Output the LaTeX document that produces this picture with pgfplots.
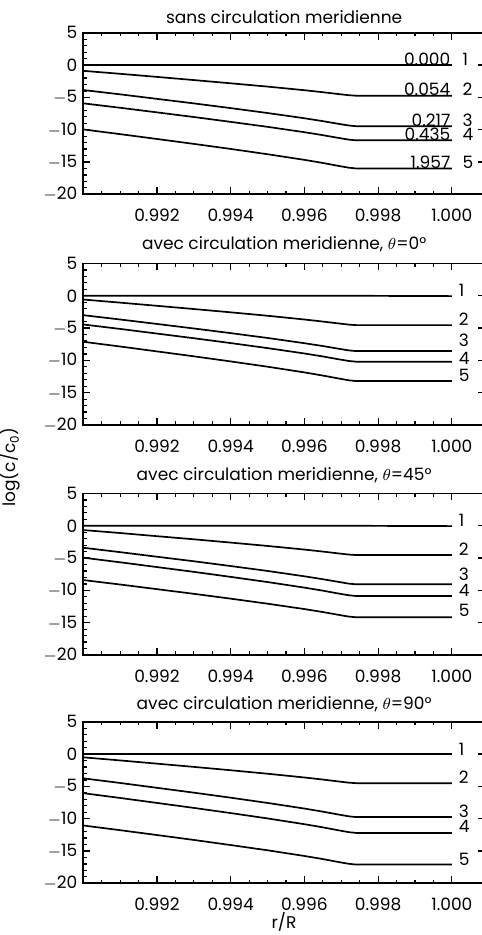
\documentclass[border=0pt]{standalone}
\usepackage{fontspec}
\setmainfont{Poppins}
\usepackage{pgfplots}
\pgfplotsset{compat=1.18}
\usepackage{pgfplotstable}

% panel 1: sans circulation meridienne
\pgfplotstableread{
x c1 c2 c3 c4 c5
0.9900 0 -0.89 -3.86 -5.92 -9.96
0.9910 0 -1.35 -4.53 -6.61 -10.69
0.9920 0 -1.83 -5.23 -7.32 -11.44
0.9930 0 -2.32 -5.93 -8.04 -12.20
0.9940 0 -2.82 -6.66 -8.79 -12.98
0.9950 0 -3.33 -7.42 -9.56 -13.80
0.9960 0 -3.89 -8.23 -10.39 -14.67
0.9965 0 -4.20 -8.68 -10.85 -15.15
0.9969 0 -4.47 -9.07 -11.25 -15.58
0.9972 0 -4.66 -9.35 -11.54 -15.88
0.9974 0 -4.74 -9.46 -11.65 -16.00
1.0000 0 -4.74 -9.46 -11.65 -16.00
}\panelA
% panel 2: theta = 0
\pgfplotstableread{
x c1 c2 c3 c4 c5
0.9900 0 -0.58 -3.00 -4.44 -7.12
0.9910 0 -1.06 -3.67 -5.13 -7.85
0.9920 0 -1.55 -4.36 -5.85 -8.61
0.9930 0 -2.05 -5.06 -6.57 -9.37
0.9940 0 -2.56 -5.78 -7.32 -10.16
0.9950 0 -3.09 -6.53 -8.10 -10.98
0.9960 0 -3.67 -7.34 -8.93 -11.86
0.9965 0 -3.99 -7.78 -9.39 -12.35
0.9969 0 -4.26 -8.17 -9.80 -12.77
0.9972 0 -4.46 -8.45 -10.09 -13.08
0.9974 0 -4.54 -8.56 -10.20 -13.20
1.0000 -0.05 -4.54 -8.56 -10.20 -13.20
}\panelB
% panel 3: theta = 45
\pgfplotstableread{
x c1 c2 c3 c4 c5
0.9900 0 -0.66 -3.40 -4.94 -8.40
0.9910 0 -1.12 -4.08 -5.65 -9.09
0.9920 0 -1.61 -4.79 -6.39 -9.81
0.9930 0 -2.09 -5.49 -7.13 -10.53
0.9940 0 -2.60 -6.23 -7.91 -11.28
0.9950 0 -3.12 -6.99 -8.71 -12.06
0.9960 0 -3.68 -7.82 -9.57 -12.89
0.9965 0 -3.99 -8.27 -10.04 -13.35
0.9969 0 -4.26 -8.66 -10.46 -13.76
0.9972 0 -4.45 -8.95 -10.75 -14.05
0.9974 0 -4.53 -9.06 -10.87 -14.16
1.0000 -0.05 -4.53 -9.06 -10.87 -14.16
}\panelC
% panel 4: theta = 90
\pgfplotstableread{
x c1 c2 c3 c4 c5
0.9900 0 -0.50 -3.75 -6.05 -11.05
0.9910 0 -0.98 -4.47 -6.79 -11.78
0.9920 0 -1.48 -5.22 -7.56 -12.53
0.9930 0 -1.98 -5.97 -8.33 -13.29
0.9940 0 -2.50 -6.75 -9.13 -14.08
0.9950 0 -3.04 -7.56 -9.96 -14.89
0.9960 0 -3.62 -8.43 -10.85 -15.77
0.9965 0 -3.94 -8.91 -11.34 -16.25
0.9969 0 -4.22 -9.33 -11.77 -16.68
0.9972 0 -4.42 -9.63 -12.08 -16.98
0.9974 0 -4.50 -9.75 -12.20 -17.10
1.0000 0 -4.50 -9.75 -12.20 -17.10
}\panelD

\pgfplotsset{
  panel/.style={
    scale only axis, width=200.85pt, height=80.75pt,
    anchor=south west,
    xmin=0.990, xmax=1.0009, ymin=-20, ymax=5,
    xtick={0.990,0.992,0.994,0.996,0.998,1.000},
    xticklabels={{},0.992,0.994,0.996,0.998,1.000},
    minor x tick num=3,
    ytick={-20,-15,-10,-5,0,5},
    yticklabels={$-$20,$-$15,$-$10,$-$5,0,5},
    minor y tick num=4,
    tick align=inside,
    major tick length=3.5pt, minor tick length=1.75pt,
    every tick/.style={black, line width=0.6pt},
    axis line style={line width=0.9pt},
    xticklabel style={yshift=-4.3pt},
    clip=false,
    cycle list={black,solid,mark=none,line width=0.85pt\\},
  },
}
\tikzset{
  lab/.style={anchor=base west, inner sep=0pt},
  num/.style={anchor=base east, inner sep=0pt},
}

\begin{document}
\fontsize{8.5}{10}\selectfont
\begin{tikzpicture}
% ---------- panel 1
\begin{axis}[panel, at={(41.65pt,370.35pt)}]
\addplot table[x=x,y=c1] {\panelA};
\addplot table[x=x,y=c2] {\panelA};
\addplot table[x=x,y=c3] {\panelA};
\addplot table[x=x,y=c4] {\panelA};
\addplot table[x=x,y=c5] {\panelA};
\node[anchor=base, yshift=4.4pt] at (rel axis cs:0.5,1) {sans circulation meridienne};
\node[num] at (axis cs:0.99997,0) {0.000};
\node[num] at (axis cs:0.99997,-4.74) {0.054};
\node[num] at (axis cs:0.99997,-9.46) {0.217};
\node[num] at (axis cs:0.99997,-11.65) {0.435};
\node[num] at (axis cs:0.99997,-16.00) {1.957};
\node[lab] at (axis cs:1.00028,0) {1};
\node[lab] at (axis cs:1.00028,-4.74) {2};
\node[lab] at (axis cs:1.00028,-9.46) {3};
\node[lab] at (axis cs:1.00028,-11.65) {4};
\node[lab] at (axis cs:1.00028,-16.00) {5};
\end{axis}
% ---------- panel 2
\begin{axis}[panel, at={(41.65pt,255pt)}]
\addplot table[x=x,y=c1] {\panelB};
\addplot table[x=x,y=c2] {\panelB};
\addplot table[x=x,y=c3] {\panelB};
\addplot table[x=x,y=c4] {\panelB};
\addplot table[x=x,y=c5] {\panelB};
\node[anchor=base, yshift=7pt] at (rel axis cs:0.5,1) {avec circulation meridienne, $\theta$=0°};
\node[lab] at (axis cs:1.00018,-0.1) {1};
\node[lab] at (axis cs:1.00018,-4.54) {2};
\node[lab] at (axis cs:1.00018,-7.9) {3};
\node[lab] at (axis cs:1.00018,-10.7) {4};
\node[lab] at (axis cs:1.00018,-13.3) {5};
\end{axis}
% ---------- panel 3
\begin{axis}[panel, at={(41.65pt,140pt)}]
\addplot table[x=x,y=c1] {\panelC};
\addplot table[x=x,y=c2] {\panelC};
\addplot table[x=x,y=c3] {\panelC};
\addplot table[x=x,y=c4] {\panelC};
\addplot table[x=x,y=c5] {\panelC};
\node[anchor=base, yshift=6.3pt] at (rel axis cs:0.5,1) {avec circulation meridienne, $\theta$=45°};
\node[lab] at (axis cs:1.00018,-0.1) {1};
\node[lab] at (axis cs:1.00018,-4.53) {2};
\node[lab] at (axis cs:1.00018,-8.4) {3};
\node[lab] at (axis cs:1.00018,-11.0) {4};
\node[lab] at (axis cs:1.00018,-14.0) {5};
\end{axis}
% ---------- panel 4
\begin{axis}[panel, at={(41.65pt,25.85pt)}]
\addplot table[x=x,y=c1] {\panelD};
\addplot table[x=x,y=c2] {\panelD};
\addplot table[x=x,y=c3] {\panelD};
\addplot table[x=x,y=c4] {\panelD};
\addplot table[x=x,y=c5] {\panelD};
\node[anchor=base, yshift=6.3pt] at (rel axis cs:0.5,1) {avec circulation meridienne, $\theta$=90°};
\node[lab] at (axis cs:1.00018,-0.2) {1};
\node[lab] at (axis cs:1.00018,-4.6) {2};
\node[lab] at (axis cs:1.00018,-9.75) {3};
\node[lab] at (axis cs:1.00018,-12.1) {4};
\node[lab] at (axis cs:1.00018,-17.2) {5};
\end{axis}
% ---------- shared labels
\node[rotate=90, anchor=center] at (5pt,234pt) {log(c/c\textsubscript{0})};
\node[anchor=base] at (142pt,3.2pt) {r/R};
\pgfresetboundingbox
\useasboundingbox (0,0) rectangle (240.5pt,467.5pt);
\end{tikzpicture}
\end{document}
